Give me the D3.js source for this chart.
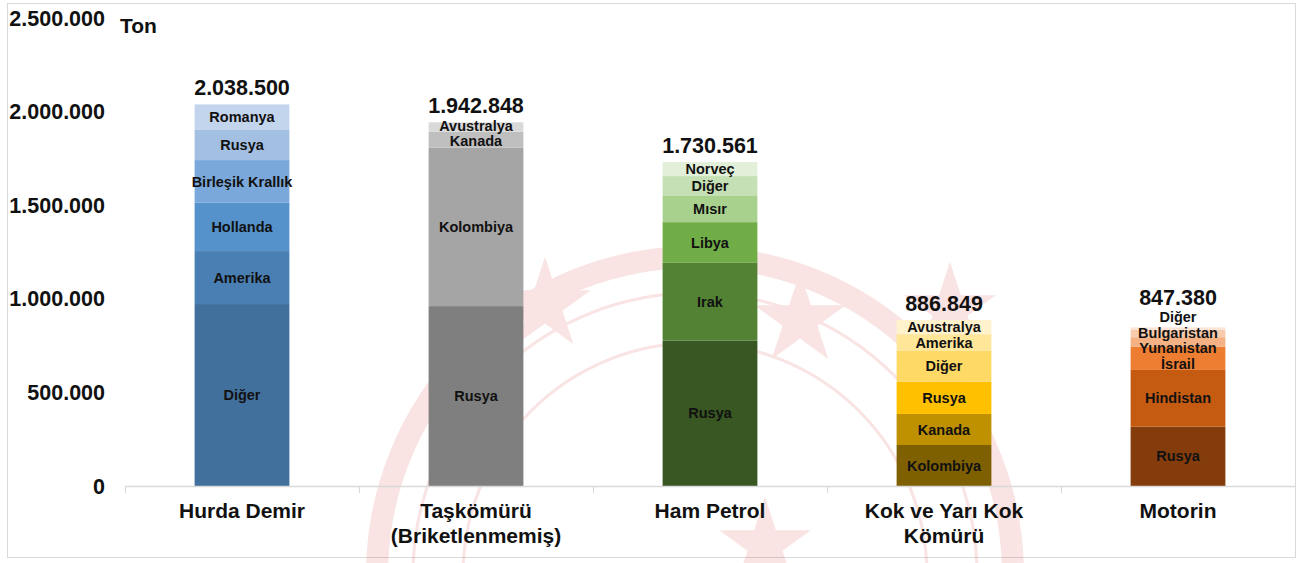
<!DOCTYPE html>
<html>
<head>
<meta charset="utf-8">
<script src="https://cdn.jsdelivr.net/npm/d3@7"></script>
<style>
  html, body { margin: 0; padding: 0; background: #fff; }
  svg { display: block; font-family: 'Liberation Sans', Arial, sans-serif; }
</style>
</head>
<body>
<svg id="chart" width="1299" height="563"></svg>
<script>
// categories and tick labels
const categories = ['Hurda Demir', 'Taşkömürü (Briketlenmemiş)', 'Ham Petrol', 'Kok ve Yarı Kok Kömürü', 'Motorin']
const categoryLines = [['Hurda Demir'], ['Taşkömürü', '(Briketlenmemiş)'], ['Ham Petrol'], ['Kok ve Yarı Kok', 'Kömürü'], ['Motorin']]
const totals = [2038500, 1942848, 1730561, 886849, 847380]
const yTicks = [0, 500000, 1000000, 1500000, 2000000, 2500000]

// segments, bottom to top
const hurdaCountries = ['Diğer', 'Amerika', 'Hollanda', 'Birleşik Krallık', 'Rusya', 'Romanya']
const hurdaValues = [972000, 283000, 258000, 228000, 164000, 133500]
const hurdaColors = ['#41709c', '#4a7fb4', '#5591cb', '#7ba8da', '#a3c0e3', '#c3d5ec']

const taskomuruCountries = ['Rusya', 'Kolombiya', 'Kanada', 'Avustralya']
const taskomuruValues = [961000, 846848, 85000, 50000]
const taskomuruColors = ['#7f7f7f', '#a5a5a5', '#bfbfbf', '#d9d9d9']

const petrolCountries = ['Rusya', 'Irak', 'Libya', 'Mısır', 'Diğer', 'Norveç']
const petrolValues = [776000, 416561, 217000, 143000, 103000, 75000]
const petrolColors = ['#385723', '#548235', '#70ad47', '#a9d18e', '#c5e0b4', '#e2f0d9']

const kokCountries = ['Kolombiya', 'Kanada', 'Rusya', 'Diğer', 'Amerika', 'Avustralya']
const kokValues = [219000, 166000, 173000, 163849, 89000, 76000]
const kokColors = ['#7f6000', '#bf9000', '#ffc000', '#ffd966', '#ffe699', '#fff2cc']

const motorinCountries = ['Rusya', 'Hindistan', 'İsrail', 'Yunanistan', 'Bulgaristan', 'Diğer']
const motorinValues = [317000, 303000, 125000, 50000, 38380, 14000]
const motorinColors = ['#843c0c', '#c55a11', '#ed7d31', '#f4b183', '#f8cbad', '#fbe5d6']

const groups = [
  { names: hurdaCountries, values: hurdaValues, colors: hurdaColors },
  { names: taskomuruCountries, values: taskomuruValues, colors: taskomuruColors },
  { names: petrolCountries, values: petrolValues, colors: petrolColors },
  { names: kokCountries, values: kokValues, colors: kokColors },
  { names: motorinCountries, values: motorinValues, colors: motorinColors }
]

const locale = d3.formatLocale({ decimal: ',', thousands: '.', grouping: [3], currency: ['', ''] })
const fmt = locale.format(',d')

const svg = d3.select('#chart')

// outer frame
svg.append('rect')
  .attr('x', 7.5).attr('y', 3.5)
  .attr('width', 1288).attr('height', 554)
  .attr('fill', '#fff').attr('stroke', '#d9d9d9')

// faint seal watermark (shapes only)
const wm = svg.append('g').attr('opacity', 0.13).attr('transform', 'translate(695,575)')
wm.append('circle').attr('r', 318).attr('fill', 'none').attr('stroke', '#d83030').attr('stroke-width', 22)
wm.append('circle').attr('r', 282).attr('fill', 'none').attr('stroke', '#d83030').attr('stroke-width', 3)
wm.append('circle').attr('r', 232).attr('fill', 'none').attr('stroke', '#d83030').attr('stroke-width', 3)
const star = d3.symbol().type(d3.symbolStar).size(2600)
;[[-150, -270], [105, -255], [255, -265], [70, -30]].forEach(p => {
  wm.append('path').attr('d', star).attr('transform', `translate(${p[0]},${p[1]})`).attr('fill', '#d83030')
})

// scales
const x = d3.scaleBand()
  .domain(categories)
  .range([125, 1295])
  .paddingInner(0.595)
  .paddingOuter(0.2975)

const y = d3.scaleLinear()
  .domain([0, 2500000])
  .range([486, 18])

// y tick labels (no axis line)
svg.append('g').selectAll('text')
  .data(yTicks)
  .join('text')
  .attr('x', 105)
  .attr('y', d => y(d))
  .attr('dy', '0.35em')
  .attr('text-anchor', 'end')
  .attr('font-size', 21.5)
  .attr('font-weight', 'bold')
  .attr('fill', '#111')
  .text(d => fmt(d))

svg.append('text')
  .attr('x', 120).attr('y', 33)
  .attr('font-size', 21).attr('font-weight', 'bold').attr('fill', '#111')
  .text('Ton')

// bars
const barsG = svg.append('g')
const labelsG = svg.append('g')

groups.forEach((grp, i) => {
  const cat = categories[i]
  const cum = d3.cumsum(grp.values)
  const segs = grp.values.map((v, j) => ({
    name: grp.names[j],
    color: grp.colors[j],
    y0: j === 0 ? 0 : cum[j - 1],
    y1: cum[j]
  }))

  barsG.selectAll(null)
    .data(segs)
    .join('rect')
    .attr('x', x(cat))
    .attr('width', x.bandwidth())
    .attr('y', d => y(d.y1))
    .attr('height', d => y(d.y0) - y(d.y1))
    .attr('fill', d => d.color)

  // centered label positions, then relax so neighbours do not overlap
  const pos = segs.map(d => (y(d.y0) + y(d.y1)) / 2)
  const minGap = 15.5
  for (let it = 0; it < 60; it++) {
    for (let k = 1; k < pos.length; k++) {
      const gap = pos[k - 1] - pos[k]
      if (gap < minGap) {
        const push = (minGap - gap) / 2
        pos[k - 1] += push
        pos[k] -= push
      }
    }
  }

  labelsG.selectAll(null)
    .data(segs)
    .join('text')
    .attr('x', x(cat) + x.bandwidth() / 2)
    .attr('y', (d, j) => pos[j])
    .attr('dy', '0.35em')
    .attr('text-anchor', 'middle')
    .attr('font-size', 14.5)
    .attr('font-weight', 'bold')
    .attr('fill', '#111')
    .text(d => d.name)

  const top = y(totals[i])
  const topLabel = pos[pos.length - 1]
  labelsG.append('text')
    .attr('x', x(cat) + x.bandwidth() / 2)
    .attr('y', Math.min(top - 17, topLabel - 20))
    .attr('dy', '0.35em')
    .attr('text-anchor', 'middle')
    .attr('font-size', 21.5)
    .attr('font-weight', 'bold')
    .attr('fill', '#111')
    .text(fmt(totals[i]))
})

// x axis line and tick marks at category edges
const axisG = svg.append('g')
axisG.append('line')
  .attr('x1', 125).attr('x2', 1295)
  .attr('y1', 486.5).attr('y2', 486.5)
  .attr('stroke', '#d9d9d9').attr('stroke-width', 1.5)

const edges = categories.map(c => x(c) - x.step() * x.paddingInner() / 2).concat([x.range()[1]])
axisG.selectAll(null)
  .data(edges)
  .join('line')
  .attr('x1', d => Math.round(d) + 0.5).attr('x2', d => Math.round(d) + 0.5)
  .attr('y1', 486).attr('y2', 493)
  .attr('stroke', '#d9d9d9')

// category labels
categories.forEach((c, i) => {
  const t = axisG.append('text')
    .attr('x', x(c) + x.bandwidth() / 2)
    .attr('y', 518)
    .attr('text-anchor', 'middle')
    .attr('font-size', 21)
    .attr('font-weight', 'bold')
    .attr('fill', '#111')
  categoryLines[i].forEach((line, k) => {
    t.append('tspan')
      .attr('x', x(c) + x.bandwidth() / 2)
      .attr('dy', k === 0 ? 0 : 25)
      .text(line)
  })
})
</script>
</body>
</html>
